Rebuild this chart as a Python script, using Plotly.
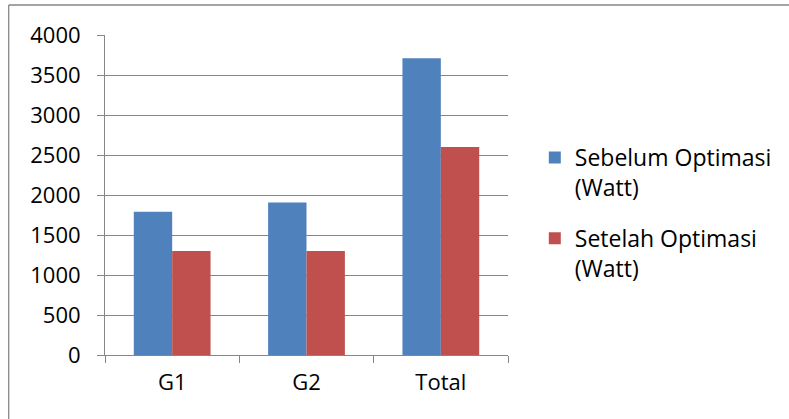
import plotly.graph_objects as go

categories = ["G1", "G2", "Total"]
sebelum = [1790, 1905, 3710]
setelah = [1300, 1300, 2600]
series_names = ["Sebelum Optimasi<br>(Watt)", "Setelah Optimasi<br>(Watt)"]
y_ticks = [0, 500, 1000, 1500, 2000, 2500, 3000, 3500, 4000]

FONT = "Open Sans"
GRAY = "#868686"

fig = go.Figure()
fig.add_trace(go.Bar(x=categories, y=sebelum, name=series_names[0],
                     marker=dict(color="#4F81BD", line=dict(width=0))))
fig.add_trace(go.Bar(x=categories, y=setelah, name=series_names[1],
                     marker=dict(color="#C0504D", line=dict(width=0))))

L, R, T, B = 105, 278, 35, 64
W, H = 789, 419
pw = W - L - R
ph = H - T - B

bx = (8 - L) / pw          # frame left edge (paper units)
by = (H - B - 5) / ph      # frame top edge (paper units)

fig.update_layout(
    width=W, height=H,
    margin=dict(l=L, r=R, t=T, b=B, pad=0),
    paper_bgcolor="white", plot_bgcolor="white",
    barmode="group", bargap=0.4286, bargroupgap=0,
    font=dict(family=FONT, size=22, color="black"),
    showlegend=True,
    legend=dict(x=(538 - L) / pw, xanchor="left", y=(355 - 213) / ph, yanchor="middle",
                valign="top", font=dict(family=FONT, size=23, color="black"),
                bgcolor="rgba(0,0,0,0)", tracegroupgap=18, itemwidth=30),
    xaxis=dict(showline=True, linecolor=GRAY, linewidth=1, showgrid=False,
               ticks="outside", ticklen=7, tickcolor=GRAY, tickson="boundaries",
               ticklabelstandoff=8, fixedrange=True),
    yaxis=dict(range=[0, 4000], tickvals=y_ticks, showline=True, linecolor=GRAY, linewidth=1,
               showgrid=True, gridcolor=GRAY, gridwidth=1, zeroline=False,
               ticks="outside", ticklen=7, tickcolor=GRAY, ticklabelstandoff=12),
    shapes=[
        dict(type="line", xref="paper", yref="paper", x0=bx, x1=(W + 20 - L) / pw,
             y0=by, y1=by, line=dict(color=GRAY, width=1.3), layer="below"),
        dict(type="line", xref="paper", yref="paper", x0=bx, x1=bx,
             y0=by, y1=(H - B - (H + 20)) / ph, line=dict(color=GRAY, width=1.3), layer="below"),
    ],
)
for i, tr in enumerate(fig.data):
    tr.legendgroup = f"g{i}"

fig.write_html("out.html")
